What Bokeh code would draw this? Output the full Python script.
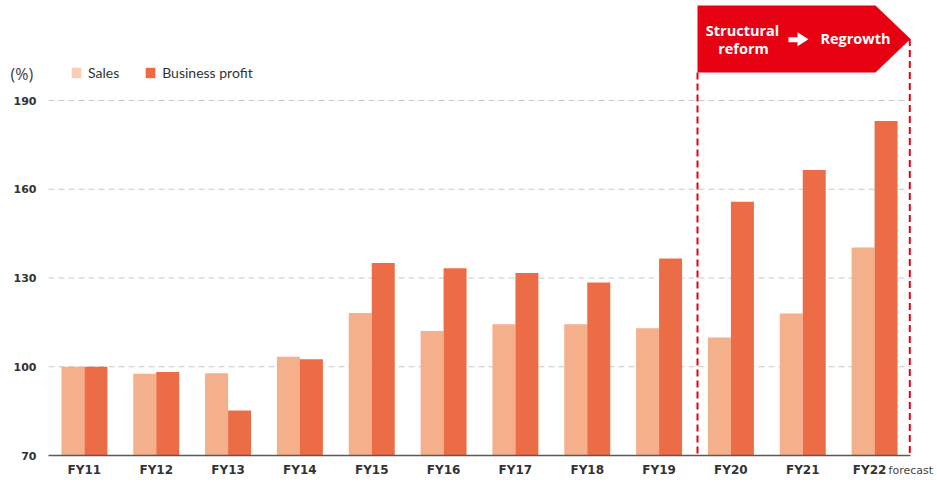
from bokeh.plotting import figure
from bokeh.models import (ColumnDataSource, Range1d, Legend, LegendItem)
from bokeh.transform import dodge
from bokeh.core.properties import value
from bokeh.embed import file_html
from bokeh.resources import INLINE

# ---- data ----
categories = ["FY11", "FY12", "FY13", "FY14", "FY15", "FY16",
              "FY17", "FY18", "FY19", "FY20", "FY21", "FY22"]
sales = [100.0, 97.6, 97.8, 103.4, 118.2, 112.1, 114.4, 114.4, 113.0, 109.9, 118.0, 140.3]
profit = [100.0, 98.2, 85.2, 102.5, 135.1, 133.3, 131.7, 128.5, 136.6, 155.8, 166.5, 183.1]
series_names = ["Sales", "Business profit"]
y_ticks = [70, 100, 130, 160, 190]
grid_ticks = [100, 130, 160, 190]
unit_label = "(%)"
forecast_note = "forecast"
banner_left = ["Structural", "reform"]
banner_right = "Regrowth"

# ---- styles / layout ----
SALES_C = "#F4AF8B"
PROFIT_C = "#EC6D45"
SALES_LEG = "#F9CDB7"
PROFIT_LEG = "#EE6A3F"
RED = "#E60012"
TXT = "#333333"

W, H = 937, 482
PLOT_L, PLOT_R, PLOT_B = 48, 910, 455      # pixel edges of the bar area
Y0, YTOP_VAL, YTOP_PX = 70, 190, 100
n = len(categories)
px_x = (PLOT_R - PLOT_L) / n
px_y = (PLOT_B - YTOP_PX) / (YTOP_VAL - Y0)
x_start = -PLOT_L / px_x
x_end = n + (W - PLOT_R) / px_x
y_start = Y0 - (H - PLOT_B) / px_y
y_end = Y0 + PLOT_B / px_y

centers = [i + 0.5 for i in range(n)]

p = figure(width=W, height=H, output_backend="svg", toolbar_location=None,
           x_range=Range1d(x_start, x_end), y_range=Range1d(y_start, y_end),
           min_border=0)
p.outline_line_color = None
p.background_fill_color = "white"
p.border_fill_color = "white"
p.xaxis.visible = False
p.yaxis.visible = False
p.xgrid.grid_line_color = None
p.ygrid.grid_line_color = None

src = ColumnDataSource(dict(xc=centers, cat=categories, sales=sales, profit=profit))

# grid lines
p.segment(x0=0, x1=n, y0=grid_ticks, y1=grid_ticks,
          line_color="#C8C8C8", line_width=1, line_dash="6 4")

p.vbar(x=dodge("xc", -0.16), top="sales", bottom=Y0, width=0.32,
       source=src, fill_color=SALES_C, line_color=None)
p.vbar(x=dodge("xc", 0.16), top="profit", bottom=Y0, width=0.32,
       source=src, fill_color=PROFIT_C, line_color=None)

# x axis line
p.segment(x0=[0], x1=[n], y0=[Y0], y1=[Y0], line_color="#5A5A5A", line_width=1.5)

# y tick labels
p.text(x=0, y=y_ticks, text=[str(t) for t in y_ticks], x_offset=-12,
       text_align="right", text_baseline="middle",
       text_font=value("DejaVu Sans"), text_font_style="bold",
       text_font_size="11px", text_color=TXT)

# x tick labels
lab_y = Y0 - 14.5 / px_y
p.text(x=centers[:-1], y=lab_y, text=categories[:-1],
       text_align="center", text_baseline="middle",
       text_font=value("DejaVu Sans"), text_font_style="bold",
       text_font_size="12px", text_color=TXT)
p.text(x=[centers[-1] - 5 / px_x], y=lab_y, text=[categories[-1]],
       text_align="center", text_baseline="middle",
       text_font=value("DejaVu Sans"), text_font_style="bold",
       text_font_size="12px", text_color=TXT)
p.text(x=[centers[-1] + 14 / px_x], y=lab_y, text=[forecast_note],
       text_align="left", text_baseline="middle",
       text_font=value("DejaVu Sans"), text_font_size="11px", text_color="#444444")

# unit label
p.text(x=[-38 / px_x], y=[Y0 + (PLOT_B - 73) / px_y], text=[unit_label],
       text_align="left", text_baseline="middle",
       text_font=value("Open Sans"), text_font_size="16px", text_color="#404040")

# legend swatches (zero-height bars, only shown in the legend)
r1 = p.vbar(x="xc", top=Y0, bottom=Y0, width=0.01, source=src,
            fill_color=SALES_LEG, line_color=None)
r2 = p.vbar(x="xc", top=Y0, bottom=Y0, width=0.01, source=src,
            fill_color=PROFIT_LEG, line_color=None)
leg = Legend(items=[LegendItem(label=series_names[0], renderers=[r1]),
                    LegendItem(label=series_names[1], renderers=[r2])],
             orientation="horizontal", location=(70, H - 81),
             padding=0, margin=0, spacing=25, label_standoff=6,
             glyph_width=12, glyph_height=13, label_height=13,
             border_line_color=None, background_fill_alpha=0,
             label_text_font="Lato", label_text_font_size="14px",
             label_text_color=TXT)
p.add_layout(leg)

# banner and dashed frame
def ypx(py):
    return Y0 + (PLOT_B - py) / px_y

def xpx(px):
    return (px - PLOT_L) / px_x

x_left = xpx(697)
x_right = float(n) - 0.01
x_chev = xpx(875)
b_bot, b_top, b_mid = ypx(72), ypx(5), ypx(38.5)
p.patch(x=[x_left, x_left, x_chev, float(n), x_chev],
        y=[b_bot, b_top, b_top, b_mid, b_bot], fill_color=RED, line_color=None)
p.segment(x0=[x_left, x_right], y0=[b_bot, b_mid], x1=[x_left, x_right], y1=[Y0, Y0],
          line_color=RED, line_width=2, line_dash="7 4")

# arrow
p.patch(x=[xpx(788), xpx(788), xpx(797), xpx(797), xpx(808), xpx(797), xpx(797)],
        y=[ypx(36.7), ypx(41.7), ypx(41.7), ypx(45.7), ypx(38.7), ypx(31.7), ypx(36.7)],
        fill_color="white", line_color=None)

p.text(x=[xpx(742), xpx(743), xpx(855)], y=[ypx(30), ypx(47.5), ypx(37.5)],
       text=banner_left + [banner_right],
       text_font=value("Open Sans"), text_font_style="bold", text_font_size="14.5px",
       text_color="white", text_align="center", text_baseline="middle")

open("out.html", "w").write(file_html(p, INLINE))
